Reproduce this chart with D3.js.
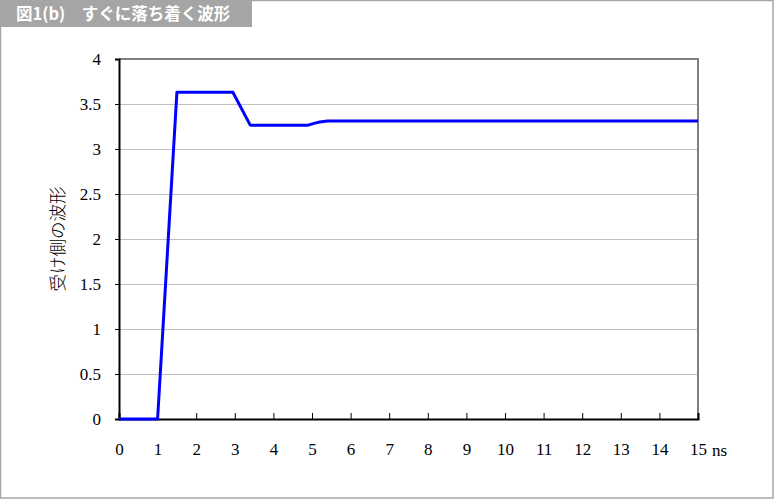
<!DOCTYPE html>
<html><head><meta charset="utf-8">
<script src="https://cdn.jsdelivr.net/npm/d3@7"></script>
<style>
html,body{margin:0;padding:0;background:#fff;}
svg{display:block;}
</style></head>
<body>
<svg id="chart" width="774" height="499"></svg>
<script>
const titleText = "図1(b)\u3000すぐに落ち着く波形";
const yAxisLabel = "受け側の波形";
const xUnit = "ns";
const timeNs = [0, 1, 1.5, 2.95, 3.4, 4.9, 5.05, 5.2, 5.4, 15];
const voltage = [0, 0, 3.63, 3.63, 3.265, 3.265, 3.285, 3.3, 3.31, 3.31];
const xTicks = [0,1,2,3,4,5,6,7,8,9,10,11,12,13,14,15];
const yTicks = [0,0.5,1,1.5,2,2.5,3,3.5,4];

const svg = d3.select("#chart");
const W = 774, H = 499;
const L = 119, R = 698, T = 59, B = 419;
const SERIF = '"Liberation Serif", serif';

svg.append("rect").attr("x",0.5).attr("y",0.5).attr("width",W-1.5).attr("height",H-1.5)
  .attr("fill","#fff").attr("stroke","#a6a6a6").attr("stroke-width",1.5);

svg.append("rect").attr("x",0).attr("y",0).attr("width",252).attr("height",27).attr("fill","#a5a5a5");
svg.append("text").attr("x",16).attr("y",20).text(titleText)
  .attr("fill","#fff").style("font-family","'Noto Sans CJK JP'").style("font-weight","bold").style("font-size","16.5px");

const x = d3.scaleLinear().domain([0,15]).range([L,R]);
const y = d3.scaleLinear().domain([0,4]).range([B,T]);

svg.append("g").selectAll("line").data(yTicks.filter(d=>d>0 && d<4)).join("line")
  .attr("x1",L).attr("x2",R).attr("y1",d=>Math.round(y(d))+0.5).attr("y2",d=>Math.round(y(d))+0.5)
  .attr("stroke","#c0c0c0").attr("stroke-width",1);

svg.append("path").attr("d",`M${L},${T} H${R} V${B}`).attr("fill","none").attr("stroke","#808080").attr("stroke-width",2);

const yAxis = d3.axisLeft(y).tickValues(yTicks).tickFormat(d3.format("")).tickSize(4).tickPadding(14);
const gy = svg.append("g").attr("transform",`translate(${L},0)`).call(yAxis).attr("font-family",SERIF).attr("font-size",17);
gy.select(".domain").attr("stroke","#000").attr("stroke-width",2);
gy.selectAll(".tick line").attr("stroke","#000");
gy.selectAll("text").attr("fill","#000");

const xAxis = d3.axisBottom(x).tickValues(xTicks).tickFormat(d3.format("d")).tickSize(-6).tickPadding(24);
const gx = svg.append("g").attr("transform",`translate(0,${B})`).call(xAxis).attr("font-family",SERIF).attr("font-size",17);
gx.select(".domain").attr("stroke","#000").attr("stroke-width",2);
gx.selectAll(".tick line").attr("stroke","#000");
gx.selectAll("text").attr("fill","#000");

svg.append("text").attr("x",x(15)+14).attr("y",B+37).text(xUnit)
  .attr("font-family",SERIF).attr("font-size",17).attr("fill","#000");

svg.append("text").attr("transform","translate(64,239) rotate(-90)").attr("text-anchor","middle")
  .text(yAxisLabel).style("font-family","'Noto Sans CJK JP'").style("font-weight","300").style("font-size","17.5px").attr("fill","#000");

const data = timeNs.map((t,i)=>[t, voltage[i]]);
svg.append("path").datum(data)
  .attr("d", d3.line().x(d=>x(d[0])).y(d=>y(d[1])))
  .attr("fill","none").attr("stroke","#0000ff").attr("stroke-width",3).attr("stroke-linejoin","round");
</script>
</body></html>
